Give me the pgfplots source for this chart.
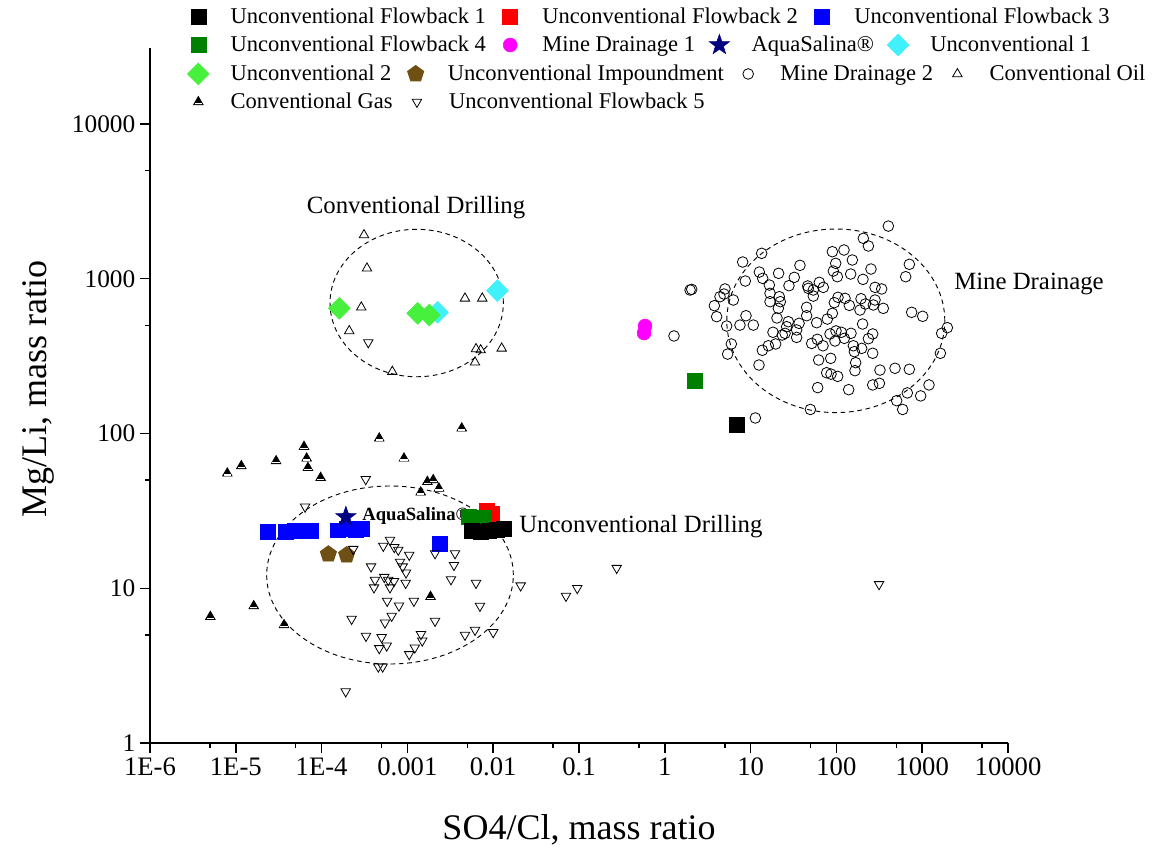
\documentclass[border=0pt]{standalone}
\usepackage{fontspec}
\setmainfont{Liberation Serif}
\usepackage{pgfplots}
\pgfplotsset{compat=1.18}
\usetikzlibrary{plotmarks}

\definecolor{ufgreen}{RGB}{0,128,0}
\definecolor{navystar}{RGB}{0,0,128}
\definecolor{ucyan}{RGB}{64,240,250}
\definecolor{ugreen}{RGB}{70,240,60}
\definecolor{impbrown}{RGB}{110,80,20}
\definecolor{mdmag}{RGB}{255,0,255}

\pgfdeclareplotmark{fstar}{%
  \pgfpathmoveto{\pgfpointpolar{90}{\pgfplotmarksize}}%
  \pgfpathlineto{\pgfpointpolar{126}{0.4\pgfplotmarksize}}%
  \pgfpathlineto{\pgfpointpolar{162}{\pgfplotmarksize}}%
  \pgfpathlineto{\pgfpointpolar{198}{0.4\pgfplotmarksize}}%
  \pgfpathlineto{\pgfpointpolar{234}{\pgfplotmarksize}}%
  \pgfpathlineto{\pgfpointpolar{270}{0.4\pgfplotmarksize}}%
  \pgfpathlineto{\pgfpointpolar{306}{\pgfplotmarksize}}%
  \pgfpathlineto{\pgfpointpolar{342}{0.4\pgfplotmarksize}}%
  \pgfpathlineto{\pgfpointpolar{18}{\pgfplotmarksize}}%
  \pgfpathlineto{\pgfpointpolar{54}{0.4\pgfplotmarksize}}%
  \pgfpathclose\pgfusepathqfillstroke}

\pgfdeclareplotmark{gastri}{%
  \pgfpathmoveto{\pgfpointpolar{90}{\pgfplotmarksize}}%
  \pgfpathlineto{\pgfpointpolar{210}{\pgfplotmarksize}}%
  \pgfpathlineto{\pgfpointpolar{330}{\pgfplotmarksize}}%
  \pgfpathclose\pgfusepathqfillstroke
  \begin{pgfscope}%
  \pgfsetfillcolor{white}%
  \pgfpathrectangle{\pgfpoint{-0.68\pgfplotmarksize}{-0.42\pgfplotmarksize}}{\pgfpoint{1.36\pgfplotmarksize}{0.22\pgfplotmarksize}}%
  \pgfusepathqfill
  \end{pgfscope}}

\tikzset{
  sUFa/.style={only marks, mark=square*, mark size=5.6pt, color=black},
  sUFb/.style={only marks, mark=square*, mark size=5.6pt, color=red},
  sUFc/.style={only marks, mark=square*, mark size=5.6pt, color=blue},
  sUFd/.style={only marks, mark=square*, mark size=5.6pt, color=ufgreen},
  sMDa/.style={only marks, mark=*, mark size=5.2pt, color=mdmag},
  sAQ/.style={only marks, mark=fstar, mark size=8pt, color=navystar},
  sUa/.style={only marks, mark=square*, mark size=5.8pt, color=ucyan, mark options={rotate=45}},
  sUb/.style={only marks, mark=square*, mark size=5.8pt, color=ugreen, mark options={rotate=45}},
  sIMP/.style={only marks, mark=pentagon*, mark size=6.5pt, color=impbrown},
  sMDb/.style={only marks, mark=o, mark size=4.0pt, color=black, mark options={line width=0.6pt}},
  sCO/.style={only marks, mark=triangle, mark size=4.1pt, color=black, mark options={line width=0.6pt}},
  sCG/.style={only marks, mark=gastri, mark size=4.1pt, color=black, mark options={line width=0.6pt}},
  sUFe/.style={only marks, mark=triangle, mark size=4.1pt, color=black, mark options={rotate=180, line width=0.6pt}},
}

\newcommand{\legfont}{\fontsize{16.9}{20}\selectfont}
\newcommand{\annfont}{\fontsize{18.6}{22}\selectfont}

\pgfplotsset{
  legrow/.style={hide axis, scale only axis, width=643.5pt, height=521.25pt,
    xmin=0, xmax=1, ymin=0, ymax=1,
    legend columns=-1,
    legend image code/.code={\path (-8.5pt,0pt) (8.5pt,0pt); \draw[##1] plot coordinates {(0pt,0pt)};},
    legend style={at={(0.0428,#1)}, anchor=west, draw=none, fill=none,
      inner sep=0pt, outer sep=0pt, font=\legfont,
      nodes={inner xsep=0pt, inner ysep=1pt},
      /tikz/every odd column/.append style={column sep=15.5pt},
      /tikz/every even column/.append style={column sep=9.5pt}}}
}

\begin{document}
\begin{tikzpicture}
\path[use as bounding box] (-112.5pt,-81.75pt) rectangle (754.5pt,557.25pt);
\begin{axis}[
  scale only axis, width=643.5pt, height=521.25pt,
  xmode=log, ymode=log,
  xmin=1e-6, xmax=1e4, ymin=1, ymax=31000,
  clip=false,
  axis x line*=bottom, axis y line*=left,
  axis line style={-, line width=1.2pt},
  tick align=outside,
  major tick length=7.5pt, minor tick length=3.75pt,
  tick style={line width=1.1pt, black},
  xtick={1e-6,1e-5,1e-4,1e-3,1e-2,1e-1,1,10,100,1000,10000},
  xticklabels={1E-6,1E-5,1E-4,0.001,0.01,0.1,1,10,100,1000,10000},
  minor xtick={5e-6,5e-5,5e-4,5e-3,5e-2,0.5,5,50,500,5000},
  ytick={1,10,100,1000,10000},
  yticklabels={1,10,100,1000,10000},
  minor ytick={5,50,500,5000},
  /pgf/number format/assume math mode=true,
  xticklabel style={font=\fontsize{20}{24}\selectfont},
  yticklabel style={font=\fontsize{19}{23}\selectfont},
  xlabel={SO4/Cl, mass ratio},
  ylabel={Mg/Li, mass ratio},
  label style={font=\fontsize{27}{32}\selectfont},
  xlabel style={at={(axis description cs:0.5,-0.125)}, anchor=center},
  ylabel style={at={(axis description cs:-0.1305,0.51)}, anchor=center},
]
% Unconventional Flowback 2
\addplot[sUFb] coordinates {(0.0085,31.6) (0.0097,30.2)};
% Unconventional Flowback 3
\addplot[sUFc] coordinates {(2.37e-5,23.1) (3.85e-5,23.1) (4.90e-5,23.4) (6.07e-5,23.4) (7.51e-5,23.4) (1.55e-4,23.7) (1.98e-4,24.1) (2.52e-4,23.7) (2.96e-4,24.1) (2.40e-3,19.3)};
% Unconventional Flowback 4
\addplot[sUFd] coordinates {(5.22e-3,28.9) (7.81e-3,28.4) (2.22,218)};
% Unconventional Flowback 1
\addplot[sUFa] coordinates {(5.66e-3,23.4) (7.21e-3,23.1) (8.93e-3,23.4) (1.11e-2,23.8) (1.34e-2,24.1) (6.94,113.5)};
% Mine Drainage 1
\addplot[sMDa] coordinates {(0.588,495) (0.573,446)};
% AquaSalina
\addplot[sAQ] coordinates {(1.92e-4,28.9)};
% Unconventional 1
\addplot[sUa] coordinates {(1.12e-2,837) (2.25e-3,607)};
% Unconventional 2
\addplot[sUb] coordinates {(1.61e-4,644) (1.32e-3,598) (1.80e-3,583)};
% Unconventional Impoundment
\addplot[sIMP] coordinates {(1.20e-4,16.6) (1.96e-4,16.4)};
% Mine Drainage 2
\addplot[sMDb] coordinates {
(403,2190) (206,1825) (236,1628) (89.7,1496) (122.6,1534) (13.46,1460) (8.08,1283) (153.4,1322)
(708,1240) (98.1,1258) (37.6,1221) (253,1156) (92.1,1122) (12.64,1105) (21.2,1084) (102.5,1031)
(146.7,1073) (642,1031) (13.83,1006) (32.3,1021) (204,991) (8.68,967) (63.2,948) (16.54,911)
(28.0,902) (46.3,898) (47.1,867) (53.8,846) (70.4,880) (282,880) (337,859) (1.97,846)
(2.06,854) (5.03,859) (4.40,766) (4.90,797) (6.29,729) (16.84,805) (21.6,766) (16.84,711)
(22.2,711) (53.8,773) (104.4,759) (126,747) (193.6,743) (282,729) (141.5,673) (94.6,701)
(217.5,687) (269.5,677) (3.78,670) (21.05,644) (45.0,654) (352,644) (4.02,569) (8.84,577)
(20.3,558) (45.0,577) (89.7,598) (188.4,628) (754,607) (1013,572) (78.4,549) (58.9,520)
(27.5,528) (36.7,515) (7.52,502) (10.76,502) (5.26,495) (202,510) (1963,483) (1686,444)
(1.28,427) (26.3,490) (34.4,467) (34.4,418) (18.24,451) (23.4,433) (25.2,444) (84.2,440)
(98.9,460) (114.2,451) (148,444) (265,440) (123.7,412) (96.3,396) (59.9,406) (236,410)
(5.96,379) (19.6,379) (16.1,369) (13.7,345) (51.5,382) (69.8,369) (157.6,369) (197,355)
(161.9,338) (265,330) (1627,330) (5.40,326) (12.53,277) (62.1,298.5) (85.8,306) (167.7,287)
(164.7,254.7) (482,264) (708,260) (322,257) (77.0,247) (86.5,242) (103.5,234) (317,211)
(265,206) (60.5,198) (139,192) (1200,206) (671,183) (960,175) (504,163) (592,143)
(49.7,143) (11.36,126)};
% Conventional Oil
\addplot[sCO] coordinates {(3.12e-4,1918) (3.38e-4,1168) (2.90e-4,654) (2.10e-4,460) (4.69e-3,747) (7.46e-3,747) (6.31e-3,352) (7.15e-3,346) (1.256e-2,355) (6.14e-3,288.5) (6.67e-4,251)};
% Conventional Gas
\addplot[sCG] coordinates {(7.96e-6,55.3) (1.16e-5,61.7) (2.95e-5,66.4) (6.24e-5,82.2) (6.70e-5,69.1) (6.93e-5,60.1) (9.75e-5,51.8) (4.70e-4,93.1) (9.12e-4,69.1) (4.30e-3,108.1) (1.71e-3,48.8) (2.00e-3,50.1) (2.33e-3,44.2) (1.43e-3,41.7) (1.62e-5,7.68) (5.05e-6,6.55) (3.65e-5,5.79) (1.86e-3,8.82)};
% Unconventional Flowback 5
\addplot[sUFe] coordinates {(3.27e-4,50.6) (6.42e-5,33.6) (2.34e-4,17.9) (6.27e-4,20.5) (5.24e-4,18.75) (7.03e-4,18.4) (7.83e-4,17.7) (1.05e-3,16.4) (2.10e-3,16.8) (3.59e-3,16.8) (3.49e-3,14.1) (3.77e-4,13.8) (8.20e-4,14.8) (8.81e-4,13.8) (9.64e-4,12.6) (9.55e-4,10.8) (4.19e-4,11.3) (4.08e-4,10.1) (5.38e-4,11.8) (5.98e-4,11.3) (6.98e-4,11.1) (6.27e-4,10.1) (3.22e-3,11.4) (6.31e-3,10.8) (2.09e-2,10.4) (5.81e-4,8.27) (7.98e-4,7.71) (1.19e-3,8.27) (7.01e-3,7.68) (2.24e-4,6.33) (5.48e-4,5.99) (6.56e-4,6.62) (2.10e-3,6.14) (3.29e-4,4.91) (5.01e-4,4.82) (4.70e-4,4.09) (5.74e-4,4.25) (1.44e-3,5.04) (1.49e-3,4.58) (1.22e-3,4.13) (1.05e-3,3.74) (4.69e-3,4.99) (6.14e-3,5.37) (1.00e-2,5.19) (4.58e-4,3.11) (5.15e-4,3.11) (1.91e-4,2.15) (7.05e-2,8.91) (9.55e-2,10.0) (0.275,13.5) (314,10.6) (3.50e-4,388)};

% dashed ellipses
\draw[black, line width=0.7pt, dash pattern=on 3.5pt off 2.8pt] (axis cs:1.283e-3,697) ellipse [x radius=65pt, y radius=55.3pt];
\draw[black, line width=0.7pt, dash pattern=on 3.5pt off 2.8pt] (axis cs:98.4,535) ellipse [x radius=81.75pt, y radius=68.85pt];
\draw[black, line width=0.7pt, dash pattern=on 3.5pt off 2.8pt] (axis cs:6.27e-4,12.18) ellipse [x radius=92.5pt, y radius=66.75pt];

% annotations
\node[font=\annfont, inner sep=0pt, anchor=center] at (axis cs:1.26e-3,2864) {Conventional Drilling};
\node[font=\annfont, inner sep=0pt, anchor=west] at (axis cs:2348,925) {Mine Drainage};
\node[font=\annfont, inner sep=0pt, anchor=west] at (axis cs:0.0200,24.9) {Unconventional Drilling};
\node[font=\fontsize{14}{16}\selectfont\bfseries, inner sep=0pt, anchor=west] at (axis cs:2.96e-4,29.3) {AquaSalina®};
\end{axis}

% legend rows
\begin{axis}[legrow=1.0446]
\addlegendimage{sUFa}\addlegendentry{Unconventional Flowback 1}
\addlegendimage{sUFb}\addlegendentry{Unconventional Flowback 2}
\addlegendimage{sUFc}\addlegendentry{Unconventional Flowback 3}
\end{axis}
\begin{axis}[legrow=1.0043]
\addlegendimage{sUFd}\addlegendentry{Unconventional Flowback 4}
\addlegendimage{sMDa}\addlegendentry{Mine Drainage 1}
\addlegendimage{sAQ}\addlegendentry{AquaSalina®}
\addlegendimage{sUa}\addlegendentry{Unconventional 1}
\end{axis}
\begin{axis}[legrow=0.9626]
\addlegendimage{sUb}\addlegendentry{Unconventional 2}
\addlegendimage{sIMP}\addlegendentry{Unconventional Impoundment}
\addlegendimage{sMDb}\addlegendentry{Mine Drainage 2}
\addlegendimage{sCO}\addlegendentry{Conventional Oil}
\end{axis}
\begin{axis}[legrow=0.9223]
\addlegendimage{sCG}\addlegendentry{Conventional Gas}
\addlegendimage{sUFe}\addlegendentry{Unconventional Flowback 5}
\end{axis}
\end{tikzpicture}
\end{document}
